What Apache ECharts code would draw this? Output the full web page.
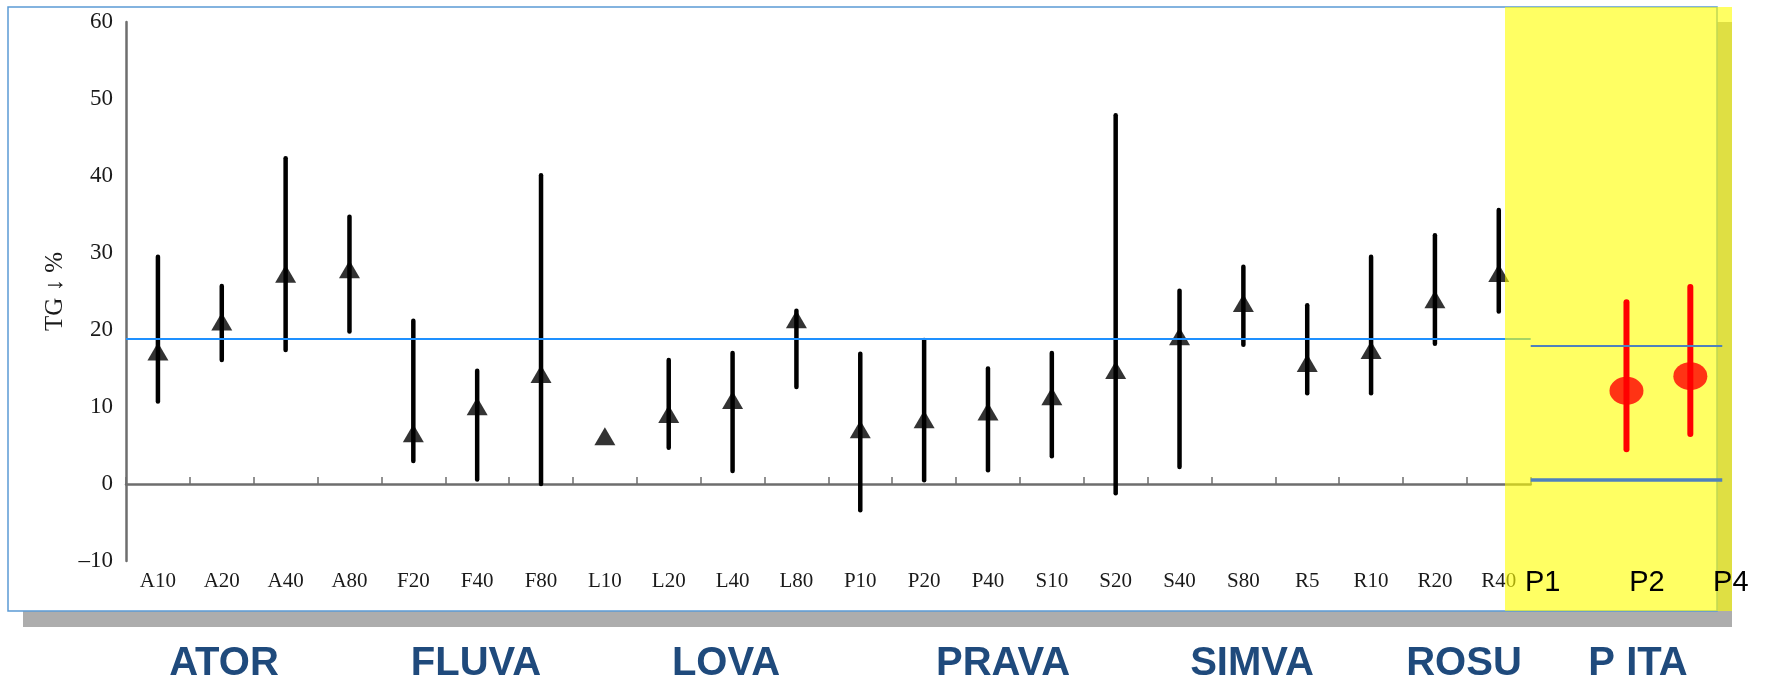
<!DOCTYPE html>
<html>
<head>
<meta charset="utf-8">
<script src="https://cdn.jsdelivr.net/npm/echarts@6/dist/echarts.min.js"></script>
<style>
html,body{margin:0;padding:0;background:#fff;}
#c{width:1765px;height:684px;}
</style>
</head>
<body>
<div id="c"></div>
<script>
// ---------- data ----------
const categories = ['A10','A20','A40','A80','F20','F40','F80','L10','L20','L40','L80','P10','P20','P40','S10','S20','S40','S80','R5','R10','R20','R40'];
const means = [17.2, 21.1, 27.3, 27.9, 6.6, 10.1, 14.3, 6.2, 9.1, 10.9, 21.4, 7.1, 8.4, 9.4, 11.4, 14.8, 19.2, 23.5, 15.7, 17.4, 24.0, 27.4];
const lows  = [10.7, 16.1, 17.4, 19.8, 3.0, 0.6, 0.0, null, 4.7, 1.7, 12.6, -3.4, 0.5, 1.8, 3.6, -1.2, 2.2, 18.1, 11.8, 11.8, 18.2, 22.4];
const highs = [29.5, 25.7, 42.3, 34.7, 21.2, 14.7, 40.1, null, 16.1, 17.0, 22.5, 16.9, 18.7, 15.0, 17.0, 47.9, 25.1, 28.2, 23.2, 29.5, 32.3, 35.6];

const pitaCategories = ['P1','P2','P4'];
const pitaMeans = [null, 12.1, 14.0];
const pitaLows  = [null, 4.5, 6.5];
const pitaHighs = [null, 23.6, 25.6];

const yMin = -10, yMax = 60, yInterval = 10;
const statinRef = 18.8;
const pitaRefUpper = 17.9;
const pitaRefLower = 0.6;

const groupLabels = ['ATOR','FLUVA','LOVA','PRAVA','SIMVA','ROSU','P ITA'];
const yName = 'TG \u2193 %';

// ---------- layout ----------
const groupLabelX = [224, 476, 726, 1003, 1252, 1464, 1638];
const band = 63.85;
const g1Left = 126, gTop = 22, gHeight = 539;
const g1Width = band * categories.length;
const g2Left = g1Left + g1Width;
const g2Width = band * pitaCategories.length;

const serif = '"Liberation Serif", "Times New Roman", serif';
const sans = '"Liberation Sans", Arial, sans-serif';

function errorBarRenderer(color, width) {
  return function (params, api) {
    const lo = api.value(1), hi = api.value(2);
    if (lo == null || hi == null || isNaN(lo) || isNaN(hi)) return;
    const p1 = api.coord([api.value(0), lo]);
    const p2 = api.coord([api.value(0), hi]);
    return {
      type: 'line',
      shape: { x1: p1[0], y1: p1[1], x2: p2[0], y2: p2[1] },
      style: { stroke: color, lineWidth: width, lineCap: 'round' }
    };
  };
}

const chart = echarts.init(document.getElementById('c'), null, { renderer: 'canvas' });

const pRich = {
  P1: { fontSize: 29, fontFamily: sans, color: '#000', padding: [0, 40, 0, 0] },
  P2: { fontSize: 29, fontFamily: sans, color: '#000', padding: [0, 0, 0, 41] },
  P4: { fontSize: 29, fontFamily: sans, color: '#000', padding: [0, 0, 0, 81] }
};

const option = {
  backgroundColor: '#ffffff',
  animation: false,
  grid: [
    { left: g1Left, top: gTop, width: g1Width, height: gHeight, containLabel: false, outerBoundsMode: 'none' },
    { left: g2Left, top: gTop, width: g2Width, height: gHeight, containLabel: false, outerBoundsMode: 'none' }
  ],
  xAxis: [
    {
      gridIndex: 0, type: 'category', data: categories, position: 'bottom',
      axisLine: { show: false, onZero: false }, axisTick: { show: false },
      axisLabel: { interval: 0, margin: 10, fontSize: 21, fontFamily: serif, color: '#1a1a1a' },
      splitLine: { show: false }
    },
    {
      gridIndex: 0, type: 'category', data: categories, position: 'top',
      axisLine: { show: true, onZero: true, lineStyle: { color: '#6e6e6e', width: 2.5 } },
      axisTick: { show: true, inside: false, length: 7, interval: 0, lineStyle: { color: '#6e6e6e', width: 1.5 } },
      axisLabel: { show: false }, splitLine: { show: false }
    },
    {
      gridIndex: 1, type: 'category', data: pitaCategories, position: 'bottom', z: 30,
      axisLine: { show: false, onZero: false }, axisTick: { show: false },
      axisLabel: {
        interval: 0, margin: 7,
        formatter: function (v) { return '{' + v + '|' + v + '}'; },
        rich: pRich
      },
      splitLine: { show: false }
    }
  ],
  yAxis: [
    {
      gridIndex: 0, type: 'value', min: yMin, max: yMax, interval: yInterval,
      name: yName, nameLocation: 'middle', nameRotate: 90, nameGap: 54,
      nameTextStyle: { fontSize: 25, fontFamily: serif, color: '#1a1a1a' },
      axisLine: { show: true, lineStyle: { color: '#6e6e6e', width: 2.5 } },
      axisTick: { show: false },
      axisLabel: {
        margin: 13, fontSize: 23, fontFamily: serif, color: '#1a1a1a',
        formatter: function (v) { return String(v).replace('-', '\u2013'); }
      },
      splitLine: { show: false }
    },
    {
      gridIndex: 1, type: 'value', min: yMin, max: yMax, interval: yInterval, show: false,
      splitLine: { show: false }
    }
  ],
  graphic: {
    elements: [
      { type: 'rect', z: -20, shape: { x: 23, y: 22, width: 1709, height: 605 }, style: { fill: '#adadad' }, silent: true },
      { type: 'rect', z: -19, shape: { x: 8, y: 7, width: 1709, height: 604 }, style: { fill: '#ffffff', stroke: '#5b9bd5', lineWidth: 1.5 }, silent: true },
      { type: 'rect', z: 10, shape: { x: 1505, y: 7, width: 227, height: 604 }, style: { fill: 'rgba(255,255,0,0.61)' }, silent: true }
    ].concat(groupLabels.map(function (t, i) {
      return {
        type: 'text', z: 30, x: groupLabelX[i], y: 664, silent: true,
        style: { text: t, fill: '#1f4a7c', font: 'bold 40px ' + sans, textAlign: 'center', textVerticalAlign: 'middle' }
      };
    }))
  },
  series: [
    {
      type: 'custom', name: 'range', xAxisIndex: 0, yAxisIndex: 0, z: 2,
      renderItem: errorBarRenderer('#000000', 4.5),
      encode: { x: 0, y: [1, 2] },
      data: categories.map(function (c, i) { return [i, lows[i], highs[i]]; })
    },
    {
      type: 'scatter', name: 'mean', xAxisIndex: 0, yAxisIndex: 0, z: 3,
      symbol: 'triangle', symbolSize: [21, 18],
      itemStyle: { color: '#000000' },
      data: categories.map(function (c, i) { return [i, means[i]]; })
    },
    {
      type: 'line', name: 'ref', xAxisIndex: 0, yAxisIndex: 0, data: [], z: 4,
      markLine: {
        z: 4, silent: true, symbol: 'none', label: { show: false },
        lineStyle: { color: '#1e90ff', width: 2, type: 'solid' },
        data: [{ yAxis: statinRef }]
      }
    },
    {
      type: 'custom', name: 'pitaRange', xAxisIndex: 2, yAxisIndex: 1, z: 20,
      renderItem: errorBarRenderer('#ff0000', 6),
      encode: { x: 0, y: [1, 2] },
      data: pitaCategories.map(function (c, i) { return [i, pitaLows[i], pitaHighs[i]]; })
    },
    {
      type: 'scatter', name: 'pitaMean', xAxisIndex: 2, yAxisIndex: 1, z: 21,
      symbol: 'circle', symbolSize: [34, 28],
      itemStyle: { color: '#ff0000' },
      data: pitaCategories.map(function (c, i) { return [i, pitaMeans[i]]; })
    },
    {
      type: 'line', name: 'pitaRef', xAxisIndex: 2, yAxisIndex: 1, data: [], z: 22,
      markLine: {
        z: 25, silent: true, symbol: 'none', label: { show: false },
        lineStyle: { color: '#4f81bd', type: 'solid' },
        data: [
          { yAxis: pitaRefUpper, lineStyle: { width: 2 } },
          { yAxis: pitaRefLower, lineStyle: { width: 3.5 } }
        ]
      }
    }
  ]
};

chart.setOption(option);
</script>
</body>
</html>
